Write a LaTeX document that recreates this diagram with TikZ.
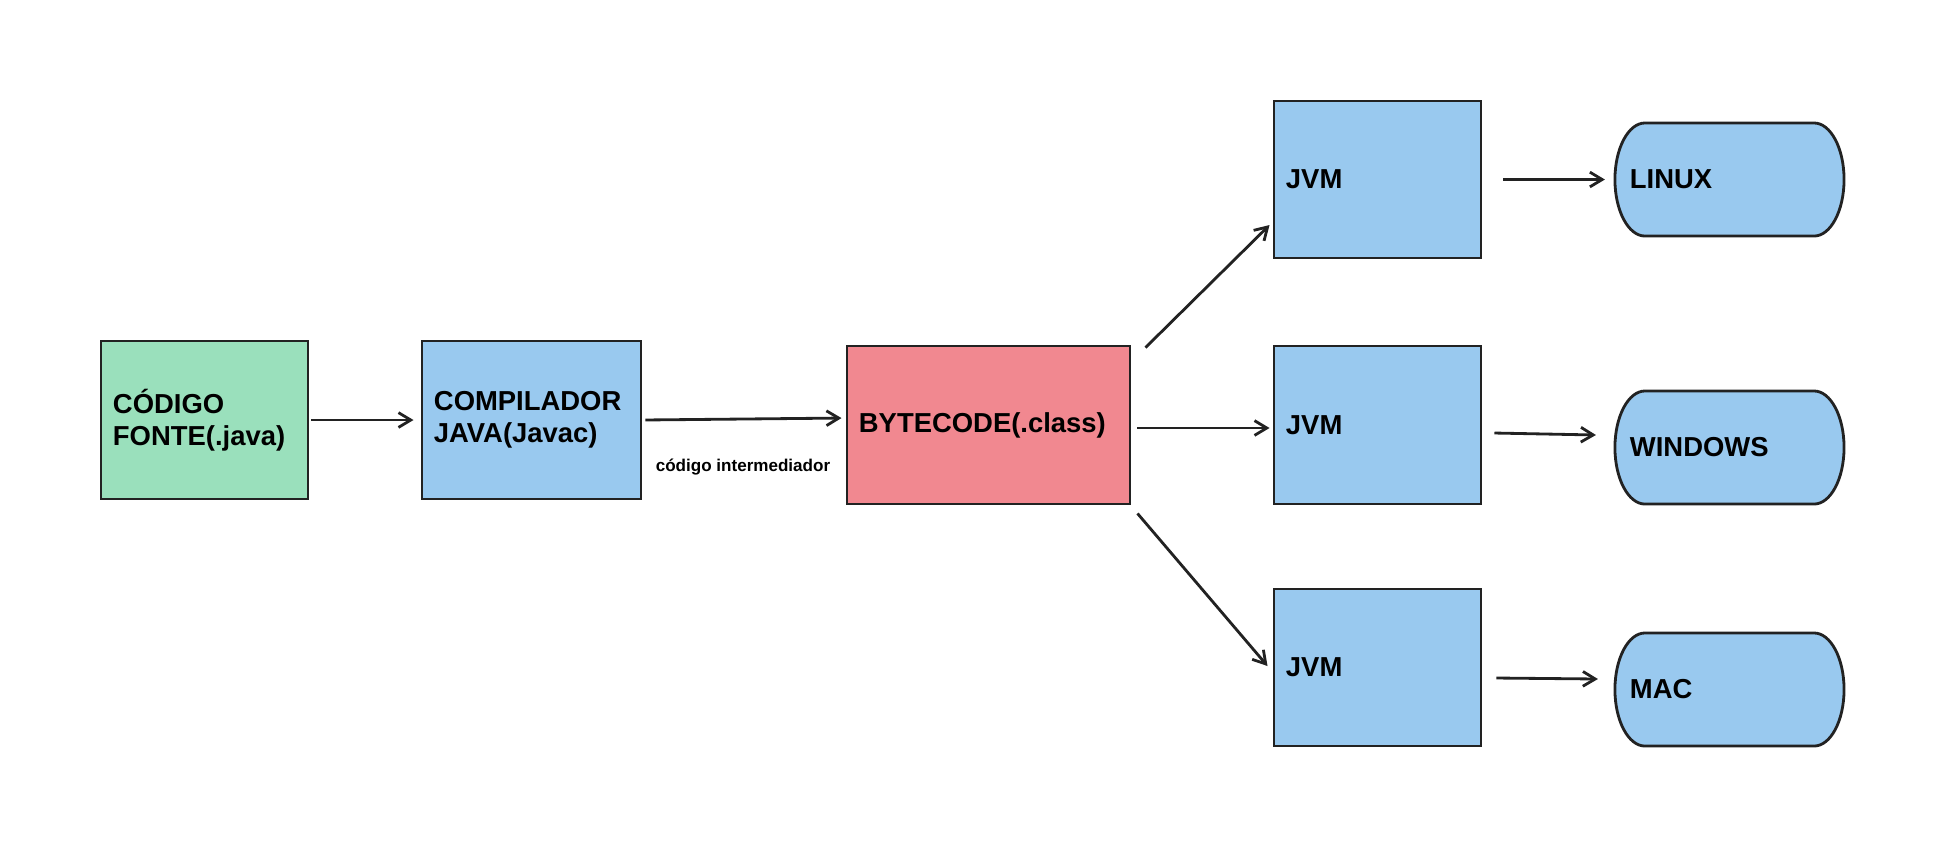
\documentclass[tikz,border=0pt]{standalone}
\usepackage{fontspec}
\setmainfont{Liberation Sans}
\usepackage{tikz}
\usetikzlibrary{arrows.meta,backgrounds}

\definecolor{verdecx}{HTML}{9AE0BC}
\definecolor{azulcx}{HTML}{99C9EF}
\definecolor{rosacx}{HTML}{F18890}
\definecolor{borda}{HTML}{222222}

\begin{document}
\begin{tikzpicture}[x=0.01cm,y=-0.01cm,
  caixa/.style={shape=rectangle,draw=borda,line width=0.8pt,inner xsep=0.12cm,
    align=left,font=\fontsize{7.8}{9.1}\selectfont\bfseries},
  so/.style={caixa,draw=none,outer sep=0pt,minimum height=1.13cm,text width=1.99cm,inner xsep=0.15cm},
  seta/.style={-{Straight Barb[length=3.5pt,width=4.2pt]},line width=0.8pt,draw=borda}]

  \useasboundingbox (0,0) rectangle (1947,847);

  \node [name=fonte,caixa,fill=verdecx,minimum height=1.58cm,text width=1.83cm]
    at (204.5,420) {CÓDIGO\\FONTE(.java)};
  \node [name=compilador,caixa,fill=azulcx,minimum height=1.58cm,text width=1.95cm]
    at (531.5,420) {COMPILADOR\\JAVA(Javac)};
  \node [name=bytecode,caixa,fill=rosacx,minimum height=1.58cm,text width=2.59cm]
    at (988.5,425) {BYTECODE(.class)};

  \node [name=jvm1,caixa,fill=azulcx,minimum height=1.57cm,text width=1.83cm] at (1377.5,179.5) {JVM};
  \node [name=jvm2,caixa,fill=azulcx,minimum height=1.58cm,text width=1.83cm] at (1377.5,425) {JVM};
  \node [name=jvm3,caixa,fill=azulcx,minimum height=1.57cm,text width=1.83cm] at (1377.5,667.5) {JVM};

  \node [name=linux,so] at (1729.5,179.5) {LINUX};
  \node [name=windows,so] at (1729.5,447.5) {WINDOWS};
  \node [name=mac,so] at (1729.5,689.5) {MAC};

  % contorno dos sistemas
  \begin{scope}[on background layer]
    \foreach \s in {linux,windows,mac}
      \draw [fill=azulcx,draw=borda,line width=0.8pt]
        ([xshift=0.3cm]\s.north west) -- ([xshift=-0.3cm]\s.north east)
        arc [start angle=90,end angle=-90,x radius=0.3cm,y radius=0.565cm]
        -- ([xshift=0.3cm]\s.south west)
        arc [start angle=270,end angle=90,x radius=0.3cm,y radius=0.565cm]
        -- cycle;
  \end{scope}

  \node [name=rotulo,font=\fontsize{4.85}{6}\selectfont\bfseries] at (743,467) {código intermediador};

  \draw [seta,shorten <=0.02cm,shorten >=0.07cm] (fonte) -- (compilador);
  \draw [seta,shorten <=0.03cm,shorten >=0.04cm] (compilador.east) -- ([yshift=0.07cm]bytecode.west);

  \draw [seta] ([xshift=0.14cm,yshift=-0.03cm]bytecode.north east) -- ([xshift=-0.03cm,yshift=-0.455cm]jvm1.west);
  \draw [seta] ([xshift=0.06cm,yshift=-0.03cm]bytecode.east) -- ([xshift=-0.03cm,yshift=-0.03cm]jvm2.west);
  \draw [seta] ([xshift=0.06cm,yshift=-0.08cm]bytecode.south east) -- ([xshift=-0.05cm,yshift=0.015cm]jvm3.west);

  \draw [seta,shorten <=0.21cm,shorten >=0.1cm] (jvm1) -- (linux);
  \draw [seta] ([xshift=0.12cm,yshift=-0.08cm]jvm2.east) -- ([xshift=-0.19cm,yshift=0.125cm]windows.west);
  \draw [seta] ([xshift=0.14cm,yshift=-0.105cm]jvm3.east) -- ([xshift=-0.17cm,yshift=0.105cm]mac.west);
\end{tikzpicture}
\end{document}
